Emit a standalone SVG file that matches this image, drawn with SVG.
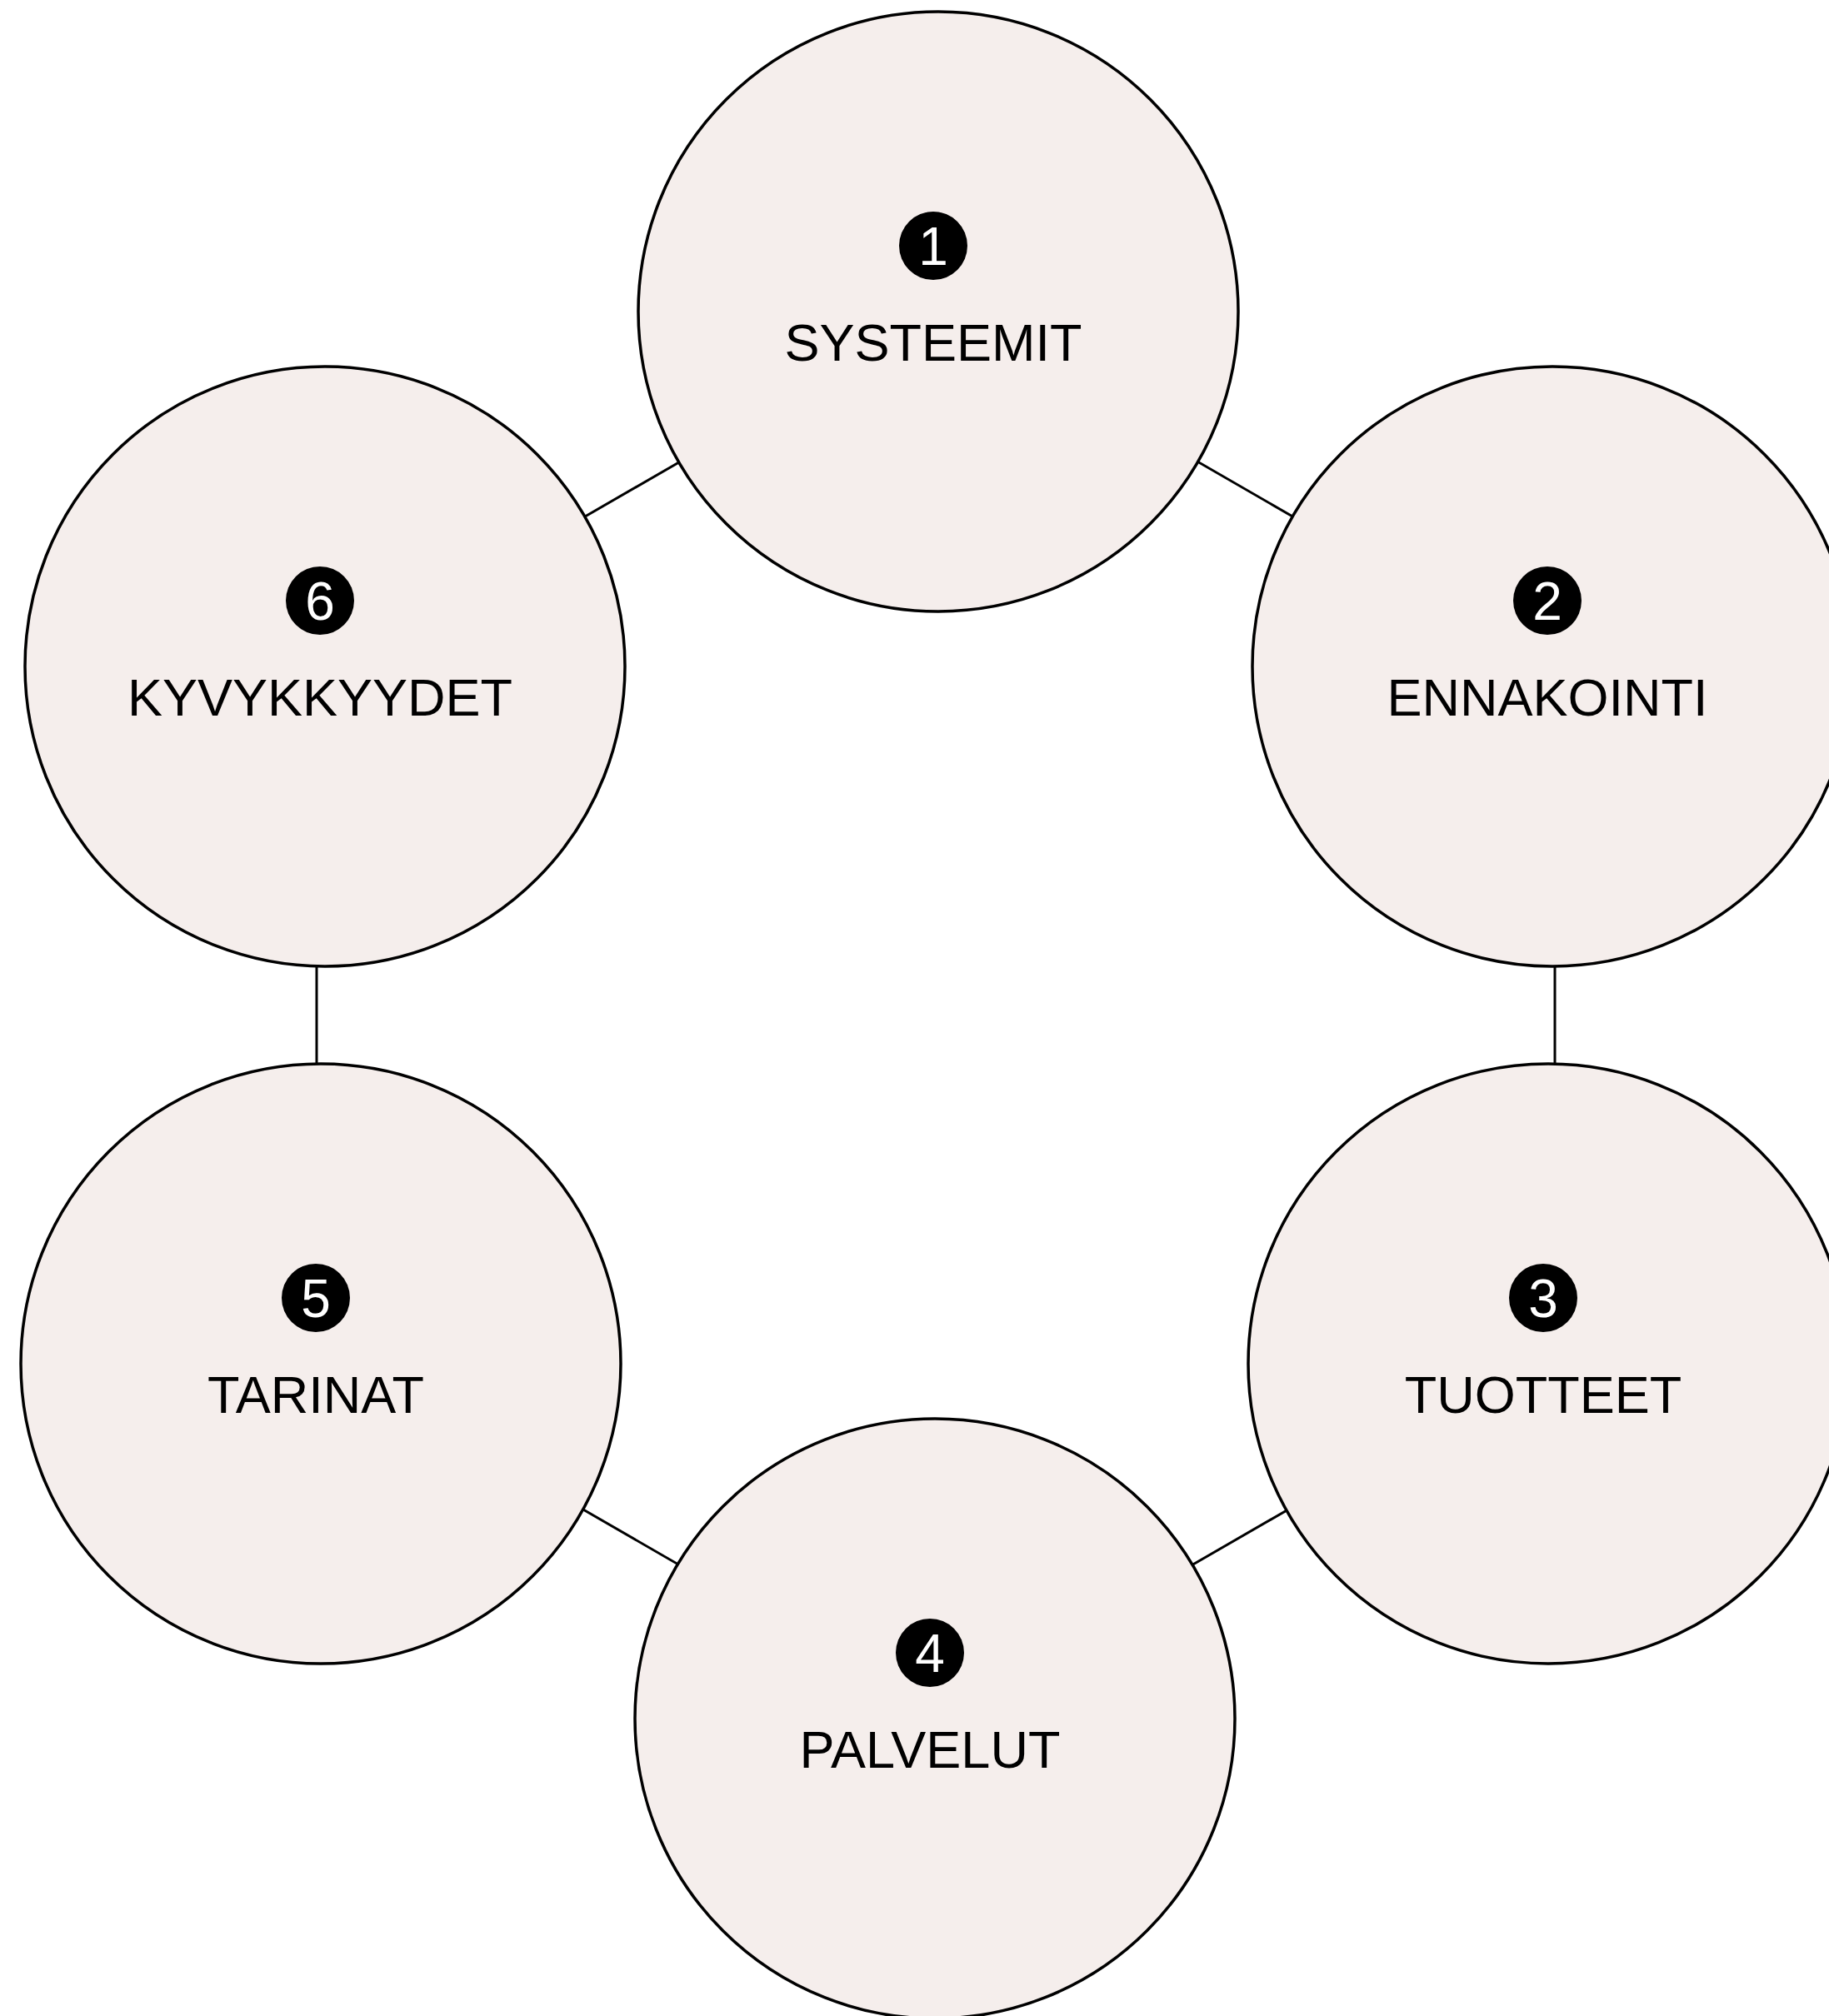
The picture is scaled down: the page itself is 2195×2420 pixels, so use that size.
<svg xmlns="http://www.w3.org/2000/svg" width="2195" height="2420" viewBox="0 0 2195 2420">
<style>
.conn{stroke:#000;stroke-width:3;fill:none}
.node{fill:#f5eeec;stroke:#000;stroke-width:3.5}
.badge{fill:#000}
.num{font-family:"Liberation Sans",Arial,sans-serif;font-size:64px;fill:#fff;text-anchor:middle}
.label{font-family:"Liberation Sans",Arial,sans-serif;font-size:63px;fill:#000;text-anchor:middle}
</style>
<rect width="2195" height="2420" fill="#fff"/>
<g id="connectors">
<line class="conn" x1="658.5" y1="645.2" x2="858.5" y2="529.8"/>
<line class="conn" x1="1395" y1="529.8" x2="1595" y2="645.2"/>
<line class="conn" x1="1866" y1="1100" x2="1866" y2="1330"/>
<line class="conn" x1="1388" y1="1903.2" x2="1588" y2="1787.8"/>
<line class="conn" x1="657" y1="1787.3" x2="857" y2="1902.7"/>
<line class="conn" x1="380" y1="1100" x2="380" y2="1330"/>
</g>
<g id="node1">
<circle class="node" cx="1126" cy="374" r="360"/>
<circle class="badge" cx="1120" cy="295" r="41"/>
<text class="num" x="1120" y="318">1</text>
<text class="label" x="1120" y="433">SYSTEEMIT</text>
</g>
<g id="node2">
<circle class="node" cx="1863" cy="800" r="360"/>
<circle class="badge" cx="1857" cy="721" r="41"/>
<text class="num" x="1857" y="744">2</text>
<text class="label" x="1857" y="859">ENNAKOINTI</text>
</g>
<g id="node3">
<circle class="node" cx="1858" cy="1637" r="360"/>
<circle class="badge" cx="1852" cy="1558" r="41"/>
<text class="num" x="1852" y="1581">3</text>
<text class="label" x="1852" y="1696">TUOTTEET</text>
</g>
<g id="node4">
<circle class="node" cx="1122" cy="2063" r="360"/>
<circle class="badge" cx="1116" cy="1984" r="41"/>
<text class="num" x="1116" y="2007">4</text>
<text class="label" x="1116" y="2122">PALVELUT</text>
</g>
<g id="node5">
<circle class="node" cx="385" cy="1637" r="360"/>
<circle class="badge" cx="379" cy="1558" r="41"/>
<text class="num" x="379" y="1581">5</text>
<text class="label" x="379" y="1696">TARINAT</text>
</g>
<g id="node6">
<circle class="node" cx="390" cy="800" r="360"/>
<circle class="badge" cx="384" cy="721" r="41"/>
<text class="num" x="384" y="744">6</text>
<text class="label" x="384" y="859">KYVYKKYYDET</text>
</g>
</svg>
